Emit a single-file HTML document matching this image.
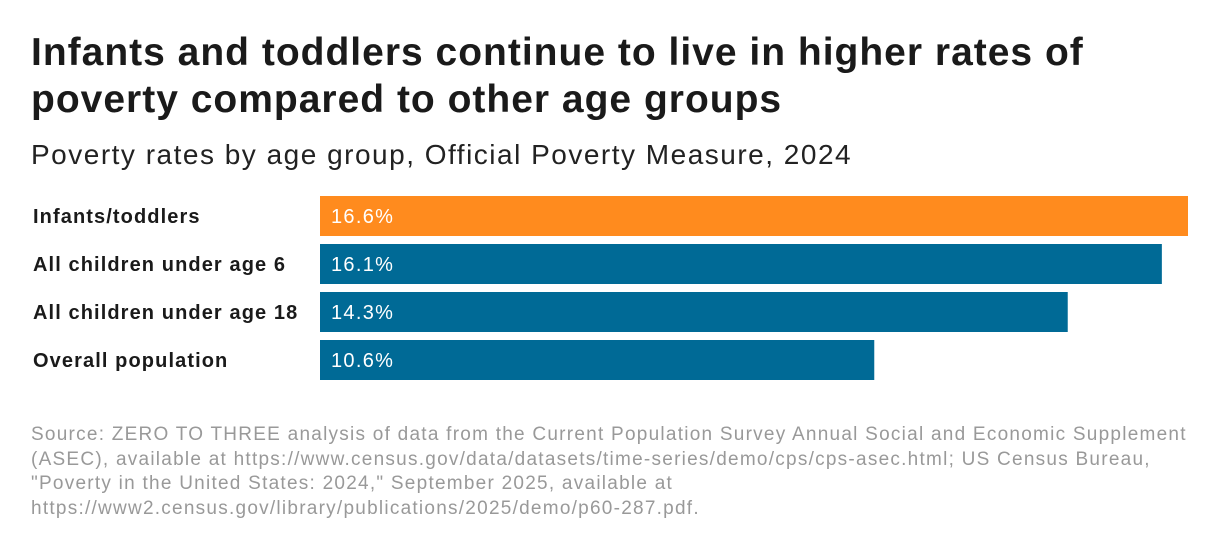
<!DOCTYPE html>
<html><head><meta charset="utf-8"><style>
body{margin:0;background:#fff;width:1220px;height:556px;overflow:hidden;font-family:"Liberation Sans",sans-serif;position:relative}
#title{position:absolute;left:31px;top:29px;font-size:39px;font-weight:bold;line-height:47px;color:#1a1a1a;letter-spacing:1px;white-space:nowrap}
#sub{position:absolute;left:31px;top:139px;font-size:28px;color:#222;letter-spacing:1.5px;white-space:nowrap}
#foot{position:absolute;left:31px;top:423px;font-size:19px;line-height:24.5px;color:#999;letter-spacing:1.25px;white-space:nowrap}
</style></head><body>
<div id="title">Infants and toddlers continue to live in higher rates of<br>poverty compared to other age groups</div>
<div id="sub">Poverty rates by age group, Official Poverty Measure, 2024</div>
<svg id="chart" width="1220" height="400" style="position:absolute;left:0;top:0"></svg>
<div id="foot">Source: ZERO TO THREE analysis of data from the Current Population Survey Annual Social and Economic Supplement<br>(ASEC), available at https://www.census.gov/data/datasets/time-series/demo/cps/cps-asec.html; US Census Bureau,<br>"Poverty in the United States: 2024," September 2025, available at<br>https://www2.census.gov/library/publications/2025/demo/p60-287.pdf.</div>
<script>
const categories=["Infants/toddlers","All children under age 6","All children under age 18","Overall population"];
const values=[16.6,16.1,14.3,10.6];
const colors=["#FF8B1E","#006A96","#006A96","#006A96"];
const svg=document.getElementById('chart');
const NS="http://www.w3.org/2000/svg";
const x0=320,xMax=1188,maxV=16.6;
function xs(v){return v/maxV*(xMax-x0);}
function ys(i){return 196+i*48;}
categories.forEach((c,i)=>{
  const y=ys(i);
  const t=document.createElementNS(NS,'text');
  
  
  t.setAttribute('x',33);t.setAttribute('y',y+27);
  t.setAttribute('font-size','20');t.setAttribute('font-weight','bold');t.setAttribute('fill','#1a1a1a');
  t.setAttribute('letter-spacing','1.1');
  t.textContent=c;svg.appendChild(t);
  const r=document.createElementNS(NS,'rect');
  
  
  r.setAttribute('x',x0);r.setAttribute('y',y);r.setAttribute('width',xs(values[i]));r.setAttribute('height',40);
  r.setAttribute('fill',colors[i]);svg.appendChild(r);
  const v=document.createElementNS(NS,'text');
  
  
  v.setAttribute('x',331);v.setAttribute('y',y+27);
  v.setAttribute('font-size','20');v.setAttribute('fill','#fff');
  v.setAttribute('letter-spacing','1.3');
  v.textContent=values[i].toFixed(1)+'%';svg.appendChild(v);
});
</script>
</body></html>
